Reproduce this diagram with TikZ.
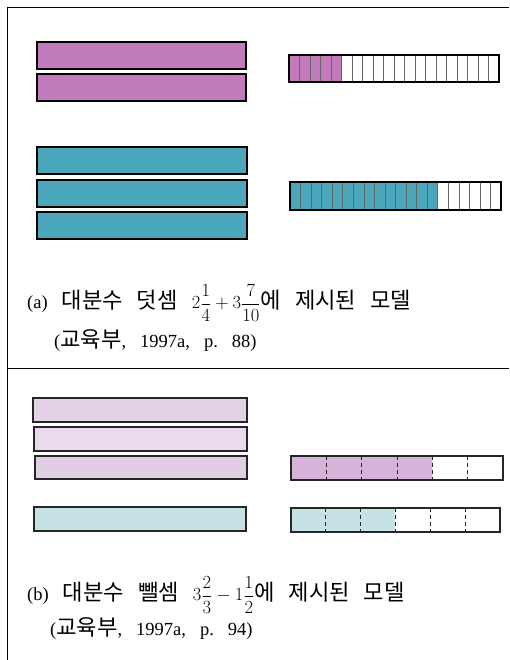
\RequirePackage{fix-cm}
\documentclass[tikz,border=0pt]{standalone}
\usepackage{amsmath}
\usepackage{fontspec}
\setmainfont{Liberation Serif}
\newfontfamily\krfont[Scale=1.2]{Noto Sans CJK KR}
\newcommand{\kt}[1]{{\krfont #1}}
\newcommand{\widespaces}{\spaceskip=14pt\relax\xspaceskip=14pt\relax}
\usetikzlibrary{positioning}

\definecolor{barpurple}{RGB}{194,124,188}
\definecolor{barteal}{RGB}{74,166,186}
\definecolor{palepurple}{RGB}{228,210,230}
\definecolor{paleteal}{RGB}{198,226,228}
\definecolor{midpurple}{RGB}{214,180,218}

\tikzset{
  wholebar/.style={draw=black, line width=1.6pt},
  palebar/.style={draw=black!85, line width=1.1pt},
  cellline/.style={draw=black!60, line width=0.6pt},
  dashcell/.style={draw=black!85, line width=0.8pt, dash pattern=on 4pt off 3pt},
  caption/.style={anchor=west, inner sep=0pt,
    font=\fontsize{18.5}{22}\selectfont\widespaces}
}

\begin{document}
\begin{tikzpicture}[x=1pt, y=-1pt]
      \useasboundingbox (0,0) rectangle (509,660);
      % frame and divider
      \draw[line width=1pt] (509,8) -- (7,8) -- (7,660);
      \draw[line width=1pt] (7,368) -- (509,368);
      % (a) whole bars
      \draw[wholebar, fill=barpurple] (37,42) rectangle (246,69);
      \draw[wholebar, fill=barpurple] (37,74) rectangle (246,101);
      \foreach \y in {147,180,212}
        \draw[wholebar, fill=barteal] (37,\y) rectangle (247,\y+27);
      % (a) strips in twentieths
      \fill[barpurple] (289,55) rectangle ({289+5*10.5},82);
      \foreach \i in {1,...,19}
        \draw[cellline] ({289+\i*10.5},55) -- ++(0,27);
      \draw[wholebar, line width=1.3pt] (289,55) rectangle (499,82);
      \fill[barteal] (290,182) rectangle ({290+14*10.55},210);
      \foreach \i in {1,...,19}
        \draw[cellline] ({290+\i*10.55},182) -- ++(0,28);
      \draw[wholebar, line width=1.3pt] (290,182) rectangle (501,210);
      % (a) caption
      \node[caption] (capa) at (27,303) {(a) \kt{대분수} \kt{덧셈} $2\dfrac{1}{4}+3\dfrac{7}{10}$\kt{에} \kt{제시된} \kt{모델}};
      \node[caption] (srca) at (54,341) {(\kt{교육부}, 1997a, p. 88)};
      % (b) whole bars
      \draw[palebar, fill=palepurple] (33,398) rectangle (247,422);
      \draw[palebar, fill=palepurple!80] (34,427) rectangle (247,451);
      \draw[palebar, fill=palepurple!110] (35,456) rectangle (247,479);
      \draw[palebar, fill=paleteal] (34,507) rectangle (246,531);
      % (b) strips in sixths
      \fill[midpurple] (291,456) rectangle ({291+4*35.3},480);
      \foreach \i in {1,...,5}
        \draw[dashcell] ({291+\i*35.3},456) -- ++(0,24);
      \draw[palebar] (291,456) rectangle (503,480);
      \fill[paleteal] (291,508) rectangle ({291+3*34.8},532);
      \foreach \i in {1,...,5}
        \draw[dashcell] ({291+\i*34.8},508) -- ++(0,24);
      \draw[palebar] (291,508) rectangle (500,532);
      % (b) caption
      \node[caption] (capb) at (27,595) {(b) \kt{대분수} \kt{뺄셈} $3\dfrac{2}{3}-1\dfrac{1}{2}$\kt{에} \kt{제시된} \kt{모델}};
      \node[caption] (srcb) at (50,629) {(\kt{교육부}, 1997a, p. 94)};
\end{tikzpicture}
\end{document}
